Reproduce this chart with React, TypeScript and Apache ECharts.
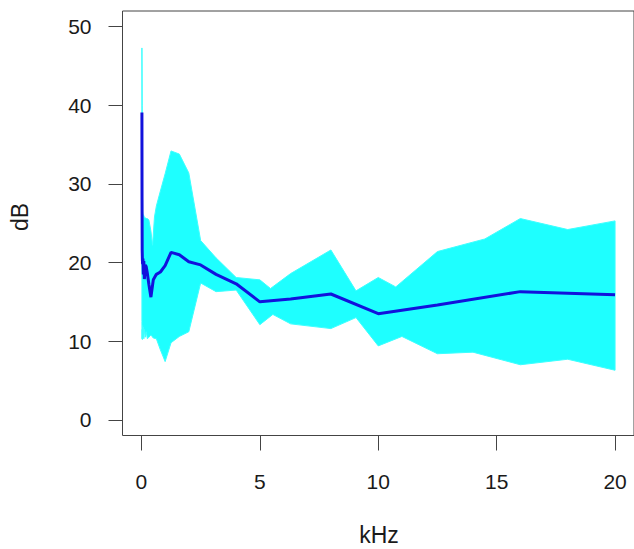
import React, { useEffect, useRef } from "react";
import * as echarts from "echarts";

// Third-octave band centre frequencies (kHz) and mean level (dB)
const freqKHz = [0.02, 0.025, 0.0315, 0.04, 0.05, 0.063, 0.08, 0.1, 0.125, 0.16, 0.2, 0.25, 0.315, 0.4, 0.5, 0.63, 0.8, 1, 1.25, 1.6, 2, 2.5, 3.15, 4, 5, 6.3, 8, 10, 12.5, 16, 20];
const meanDb = [39.1, 28, 21.5, 20.3, 19.8, 20.5, 18.5, 20.2, 17.9, 19.7, 19.5, 18.6, 17.2, 15.6, 17.8, 18.5, 18.8, 19.6, 21.3, 21.0, 20.1, 19.7, 18.5, 17.3, 15.0, 15.35, 16.0, 13.5, 14.6, 16.3, 15.9];

// Upper envelope of the individual curves
const upperKHz = [0.02, 0.025, 0.0315, 0.04, 0.05, 0.063, 0.08, 0.1, 0.125, 0.16, 0.2, 0.25, 0.315, 0.4, 0.47, 0.55, 0.63, 0.8, 1, 1.25, 1.6, 2, 2.5, 3.15, 4, 5, 5.45, 6.3, 8, 9.06, 10, 10.74, 12.5, 14.5, 16, 18, 20];
const upperDb = [47.3, 45, 40, 30, 26.5, 26.2, 26.0, 26.0, 25.7, 25.7, 25.6, 25.6, 25.4, 24.0, 22.2, 25.8, 27.2, 29.1, 31.3, 34.2, 33.8, 31.4, 22.8, 20.6, 18.1, 17.8, 16.7, 18.6, 21.6, 16.4, 18.1, 16.9, 21.4, 23.0, 25.6, 24.2, 25.3];

// Lower envelope of the individual curves
const lowerKHz = [0.02, 0.025, 0.0315, 0.04, 0.05, 0.063, 0.08, 0.1, 0.125, 0.16, 0.2, 0.25, 0.315, 0.4, 0.5, 0.63, 0.8, 1, 1.25, 1.6, 2, 2.5, 3.15, 4, 5, 5.55, 6.3, 8, 9.06, 10, 11, 12.5, 14, 16, 18, 20];
const lowerDb = [12.5, 10.3, 11.5, 10.2, 12.0, 10.4, 11.8, 10.3, 11.5, 10.5, 11.2, 10.3, 10.5, 10.8, 10.4, 10.3, 8.9, 7.4, 9.8, 10.6, 11.2, 17.4, 16.3, 16.5, 12.1, 13.4, 12.2, 11.6, 13.0, 9.4, 10.6, 8.4, 8.6, 7.0, 7.7, 6.3];

const xTicks = [0, 5, 10, 15, 20];
const yTicks = [0, 10, 20, 30, 40, 50];

const FONT = "'Liberation Sans', Arial, Helvetica, sans-serif";

export default function App() {
  const ref = useRef<HTMLDivElement>(null);
  useEffect(() => {
    if (!ref.current) return;
    const chart = echarts.init(ref.current, null, { renderer: "svg" });
    const upperPts = upperKHz.map((x, i) => [x, upperDb[i]]);
    const lowerPts = lowerKHz.map((x, i) => [x, lowerDb[i]]);
    chart.setOption({
      animation: false,
      backgroundColor: "#ffffff",
      grid: {
        left: 122.5,
        top: 11,
        width: 513,
        height: 424.5,
        show: true,
        borderColor: "#444",
        borderWidth: 1,
        backgroundColor: "transparent",
      },
      xAxis: {
        type: "value",
        min: -0.8,
        max: 20.8,
        splitLine: { show: false },
        axisLine: { show: false, onZero: false },
        axisTick: { show: true, inside: false, length: 15, customValues: xTicks, lineStyle: { color: "#444", width: 1 } },
        axisLabel: { customValues: xTicks, fontSize: 21, color: "#1a1a1a", fontFamily: FONT, margin: 35 },
      },
      yAxis: {
        type: "value",
        min: -2,
        max: 52,
        splitLine: { show: false },
        axisLine: { show: false, onZero: false },
        axisTick: { show: true, inside: false, length: 14, customValues: yTicks, lineStyle: { color: "#444", width: 1 } },
        axisLabel: { customValues: yTicks, fontSize: 21, color: "#1a1a1a", fontFamily: FONT, margin: 31 },
      },
      graphic: [
        {
          type: "text",
          x: 379,
          y: 535,
          style: { text: "kHz", fontSize: 23, fontFamily: FONT, fill: "#1a1a1a", textAlign: "center", textVerticalAlign: "middle" },
        },
        {
          type: "text",
          x: 20,
          y: 217,
          rotation: Math.PI / 2,
          style: { text: "dB", fontSize: 23, fontFamily: FONT, fill: "#1a1a1a", textAlign: "center", textVerticalAlign: "middle" },
        },
      ],
      series: [
        {
          type: "custom",
          data: [[0, 0]],
          silent: true,
          z: 1,
          renderItem: (params: any, api: any) => {
            const pts = [
              ...upperPts.map((p) => api.coord(p)),
              ...lowerPts.slice().reverse().map((p) => api.coord(p)),
            ];
            return {
              type: "polygon",
              shape: { points: pts },
              style: { fill: "#1effff", stroke: "#3dffff", lineWidth: 1 },
            };
          },
        },
        {
          type: "line",
          data: freqKHz.map((x, i) => [x, meanDb[i]]),
          showSymbol: false,
          symbol: "none",
          z: 3,
          lineStyle: { color: "#1212dc", width: 3 },
        },
      ],
    });
    return () => chart.dispose();
  }, []);
  return <div ref={ref} style={{ position: "absolute", left: 0, top: 0, width: 634, height: 549 }} />;
}
